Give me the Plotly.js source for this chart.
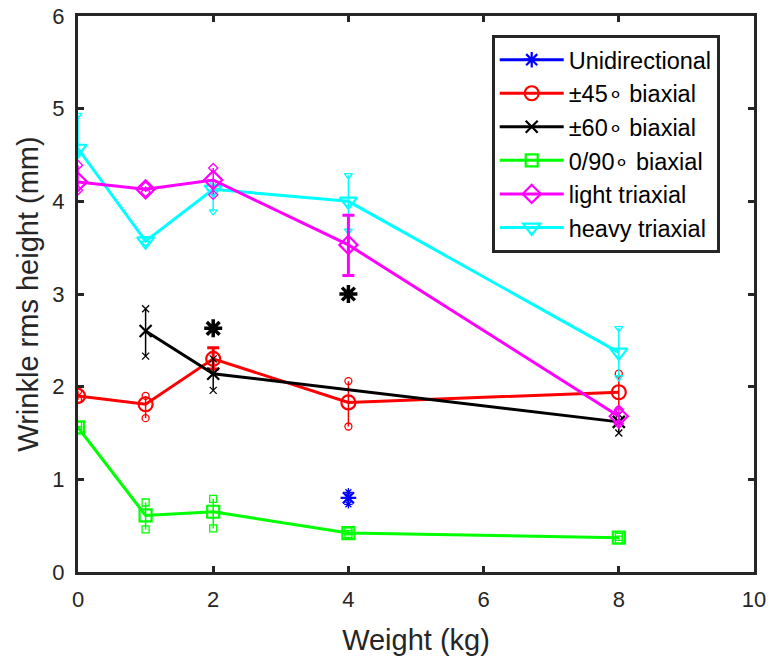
<!DOCTYPE html>
<html>
<head>
<meta charset="utf-8">
<script src="https://cdn.plot.ly/plotly-3.0.1.min.js"></script>
<style>html,body{margin:0;padding:0;background:#fff;}#chart{width:773px;height:669px;}</style>
</head>
<body>
<div id="chart"></div>
<script>
// ---- data ----
const weights = [0, 1, 2, 4, 8];

const uniX = [4];
const uniY = [0.80];
const uniLo = [0.73];
const uniHi = [0.86];

const b45Y = [1.90, 1.81, 2.30, 1.83, 1.94];
const b45ExtX = [0, 1, 4, 8];
const b45Lo = [1.86, 1.66, 1.57, 1.75];
const b45Hi = [1.95, 1.90, 2.06, 2.14];
const b45CapX = [2];
const b45CapY = [2.30];
const b45CapPlus = [0.12];
const b45CapMinus = [0.11];

const b60X = [1, 2, 8];
const b60Y = [2.60, 2.14, 1.62];
const b60Lo = [2.33, 1.96, 1.50];
const b60Hi = [2.84, 2.30, 1.70];
const b60StarX = [2, 4];
const b60StarY = [2.63, 3.00];

const b090Y = [1.56, 0.61, 0.65, 0.42, 0.37];
const b090Lo = [1.53, 0.46, 0.47, 0.41, 0.35];
const b090Hi = [1.58, 0.75, 0.79, 0.44, 0.38];

const lightY = [4.21, 4.13, 4.23, 3.53, 1.68];
const lightExtX = [0, 1, 2, 8];
const lightLo = [4.12, 4.10, 4.07, 1.60];
const lightHi = [4.39, 4.16, 4.36, 1.75];
const lightCapX = [4];
const lightCapY = [3.53];
const lightCapPlus = [0.32];
const lightCapMinus = [0.33];

const heavyY = [4.57, 3.57, 4.13, 4.00, 2.37];
const heavyLo = [4.50, 3.55, 3.89, 3.68, 2.10];
const heavyHi = [4.93, 3.60, 4.20, 4.28, 2.63];

const xTicks = [0, 2, 4, 6, 8, 10];
const yTicks = [0, 1, 2, 3, 4, 5, 6];

// ---- helpers ----
function extent(xs, lo, hi) {
  const x = [], y = [];
  for (let i = 0; i < xs.length; i++) {
    x.push(xs[i], xs[i], null);
    y.push(lo[i], hi[i], null);
  }
  return {x, y};
}
function extTrace(xs, lo, hi, color, symbol) {
  const e = extent(xs, lo, hi);
  return {
    x: e.x, y: e.y, type: 'scatter', mode: 'lines+markers', showlegend: false,
    hoverinfo: 'skip', connectgaps: false,
    line: {color: color, width: 1.5},
    marker: {symbol: symbol, size: 7, color: color, line: {color: color, width: 1.3}}
  };
}
function mainTrace(name, xs, ys, color, symbol, rank, size) {
  return {
    x: xs, y: ys, name: name, type: 'scatter', mode: 'lines+markers', legendrank: rank,
    line: {color: color, width: 3},
    marker: {symbol: symbol, size: size || 14, color: color, line: {color: color, width: 2.2}}
  };
}
function capTrace(xs, ys, plus, minus, color) {
  return {
    x: xs, y: ys, type: 'scatter', mode: 'markers', showlegend: false, hoverinfo: 'skip',
    marker: {size: 1, opacity: 0, color: color},
    error_y: {type: 'data', symmetric: false, array: plus, arrayminus: minus,
              color: color, thickness: 3, width: 6}
  };
}

const BLUE = '#0000ff', RED = '#ff0000', BLACK = '#000000', GREEN = '#00ff00',
      MAG = '#ff00ff', CYAN = '#00ffff';

const traces = [
  extTrace(uniX, uniLo, uniHi, BLUE, 'asterisk-open'),
  mainTrace('Unidirectional', uniX, uniY, BLUE, 'asterisk-open', 1, 13),
  extTrace(b45ExtX, b45Lo, b45Hi, RED, 'circle-open'),
  capTrace(b45CapX, b45CapY, b45CapPlus, b45CapMinus, RED),
  mainTrace('±45∘ biaxial', weights, b45Y, RED, 'circle-open', 2, 14),
  extTrace(b60X, b60Lo, b60Hi, BLACK, 'x-thin-open'),
  mainTrace('±60∘ biaxial', b60X, b60Y, BLACK, 'x-thin-open', 3, 12),
  {x: b60StarX, y: b60StarY, type: 'scatter', mode: 'markers', showlegend: false, hoverinfo: 'skip',
   marker: {symbol: 'asterisk-open', size: 15, color: BLACK, line: {color: BLACK, width: 3.5}}},
  extTrace(weights, b090Lo, b090Hi, GREEN, 'square-open'),
  mainTrace('0/90∘ biaxial', weights, b090Y, GREEN, 'square-open', 4, 12),
  extTrace(weights, heavyLo, heavyHi, CYAN, 'triangle-down-open'),
  mainTrace('heavy triaxial', weights, heavyY, CYAN, 'triangle-down-open', 6, 15),
  extTrace(lightExtX, lightLo, lightHi, MAG, 'diamond-open'),
  capTrace(lightCapX, lightCapY, lightCapPlus, lightCapMinus, MAG),
  mainTrace('light triaxial', weights, lightY, MAG, 'diamond-open', 5, 14)
];

const AX = '#262626';
const FONT = 'Liberation Sans, Arial, sans-serif';

const layout = {
  width: 773, height: 669,
  margin: {l: 78, r: 19, t: 16, b: 97},
  paper_bgcolor: '#ffffff', plot_bgcolor: '#ffffff',
  font: {family: FONT, color: AX, size: 22},
  showlegend: true,
  legend: {
    x: 0.612, y: 0.966, xanchor: 'left', yanchor: 'top',
    bgcolor: '#ffffff', bordercolor: '#262626', borderwidth: 3,
    font: {family: FONT, size: 23.5, color: '#000000'},
    tracegroupgap: 0, itemwidth: 64
  },
  xaxis: {
    range: [0, 10], tickvals: xTicks, ticktext: xTicks.map(String),
    showgrid: false, zeroline: false, showline: true, linecolor: AX, linewidth: 3,
    mirror: 'ticks', ticks: 'inside', ticklen: 6, tickwidth: 3, tickcolor: AX,
    tickfont: {family: FONT, size: 22, color: AX}, ticklabelstandoff: 6,
    title: {text: 'Weight (kg)', font: {family: FONT, size: 29, color: AX}, standoff: 19},
    automargin: false, fixedrange: true
  },
  yaxis: {
    range: [0, 6], tickvals: yTicks, ticktext: yTicks.map(String),
    showgrid: false, zeroline: false, showline: true, linecolor: AX, linewidth: 3,
    mirror: 'ticks', ticks: 'inside', ticklen: 6, tickwidth: 3, tickcolor: AX,
    tickfont: {family: FONT, size: 22, color: AX}, ticklabelstandoff: 6,
    title: {text: 'Wrinkle rms height (mm)', font: {family: FONT, size: 29, color: AX}, standoff: 6},
    automargin: false, fixedrange: true
  }
};

Plotly.newPlot('chart', traces, layout, {displayModeBar: false, staticPlot: true});
</script>
</body>
</html>
